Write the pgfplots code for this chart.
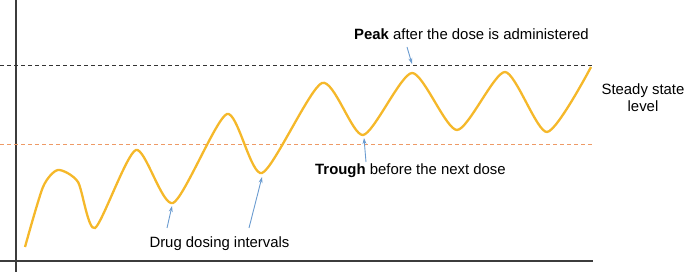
\documentclass[border=0pt]{standalone}
\usepackage{pgfplots}
\pgfplotsset{compat=1.18}
\usepackage{fontspec}
\setmainfont{Liberation Sans}
\usetikzlibrary{arrows.meta}

\definecolor{curve}{HTML}{F5B82A}
\definecolor{trough}{HTML}{EE9A66}
\definecolor{arrowblue}{HTML}{6A9BD0}
\definecolor{axisgray}{HTML}{3C3C3C}

\begin{document}
\begin{tikzpicture}
\path[use as bounding box] (0,0) rectangle (685pt,272pt);
\begin{axis}[
    at={(0,0)}, anchor=south west,
    scale only axis,
    width=685pt, height=272pt,
    xmin=-16, xmax=669,
    ymin=-11, ymax=261,
    hide axis,
    clip=false,
    font=\fontsize{14.9}{17}\selectfont,
]
    % axes
    \draw[axisgray, line width=1.2pt] (axis cs:0,-11) -- (axis cs:0,261);
    \draw[axisgray, line width=1.2pt] (axis cs:-16,0) -- (axis cs:577,0);

    % peak (steady state) and trough levels
    \addplot[black!80, line width=0.9pt, dash pattern=on 4pt off 3pt] coordinates {(-16,196) (577,196)};
    \addplot[trough, line width=0.9pt, dash pattern=on 4pt off 3pt] coordinates {(-16,117) (577,117)};

    % drug concentration (extrema)
    \addplot[curve, line width=2.3pt, smooth, tension=0.42] coordinates {
        (9,14) (27,74) (42,91) (62,79) (79,33)
        (120,111) (157,58) (211,147) (246,88) (306,178) (347,126)
        (396,188) (441,131) (489,189) (531,129) (575,194)
    };

    % annotations
    \draw[arrowblue, line width=0.9pt, -{Stealth[length=6pt, width=4pt]}] (axis cs:151,33) -- (axis cs:156,55);
    \draw[arrowblue, line width=0.9pt, -{Stealth[length=6pt, width=4pt]}] (axis cs:233,33) -- (axis cs:246,84);
    \draw[arrowblue, line width=0.9pt, -{Stealth[length=6pt, width=4pt]}] (axis cs:350,99) -- (axis cs:348,123);
    \draw[arrowblue, line width=0.9pt, -{Stealth[length=6pt, width=4pt]}] (axis cs:391,214) -- (axis cs:396,197);

    \node[anchor=base, inner sep=0pt] at (axis cs:203.5,13) {Drug dosing intervals};
    \node[anchor=base west, inner sep=0pt] at (axis cs:299,86) {\textbf{Trough} before the next dose};
    \node[anchor=base west, inner sep=0pt] at (axis cs:338,221) {\textbf{Peak} after the dose is administered};
    \node[anchor=base, inner sep=0pt] at (axis cs:627,166) {Steady state};
    \node[anchor=base, inner sep=0pt] at (axis cs:627,149) {level};
\end{axis}
\end{tikzpicture}
\end{document}
